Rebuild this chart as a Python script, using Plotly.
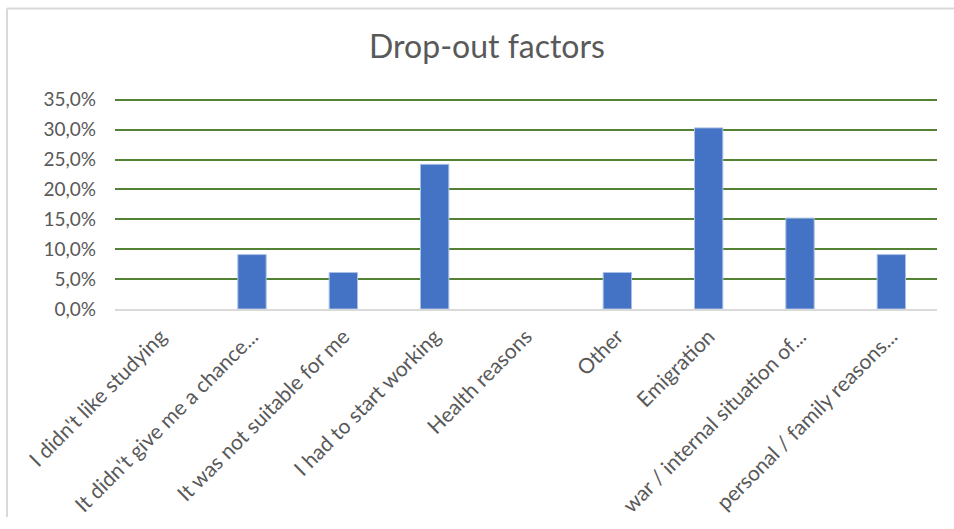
import plotly.graph_objects as go

categories = [
    "I didn't like studying",
    "It didn't give me a chance...",
    "It was not suitable for me",
    "I had to start working",
    "Health reasons",
    "Other",
    "Emigration",
    "war / internal situation of...",
    "personal / family reasons...",
]
values = [0.0, 9.1, 6.1, 24.2, 0.0, 6.1, 30.3, 15.2, 9.1]
tick_vals = [0, 5, 10, 15, 20, 25, 30, 35]
tick_text = ["0,0%", "5,0%", "10,0%", "15,0%", "20,0%", "25,0%", "30,0%", "35,0%"]

W, H = 954, 529
Y_MAX = 35.3
L, R, T, B = 115, 17, 98, 214
FONT = "Lato, Carlito, Calibri, sans-serif"
GREY = "#595959"

fig = go.Figure(
    go.Bar(
        x=categories,
        y=values,
        marker=dict(
            color="#4472C4",
            line=dict(color="#A9BFE6", width=[1 if v > 0 else 0 for v in values]),
        ),
        hoverinfo="x+y",
    )
)

pw, ph = W - L - R, H - T - B


def px_to_paper_x(px):
    return (px - L) / pw


def px_to_paper_y(py):
    return (H - B - py) / ph


fig.update_layout(
    width=W,
    height=H,
    margin=dict(l=L, r=R, t=T, b=B),
    paper_bgcolor="white",
    plot_bgcolor="white",
    bargap=0.69,
    showlegend=False,
    title=dict(
        text="Drop-out factors",
        x=487 / W,
        xref="container",
        xanchor="center",
        y=1 - 47 / H,
        yanchor="middle",
        font=dict(family=FONT, size=32, color=GREY),
    ),
    xaxis=dict(
        tickangle=-45,
        tickfont=dict(family=FONT, size=21, color=GREY),
        showgrid=False,
        showline=True,
        linecolor="#D9D9D9",
        linewidth=2,
        ticks="",
        ticklabelstandoff=5,
        range=[-0.5, len(categories) - 0.5],
    ),
    yaxis=dict(
        range=[0, Y_MAX],
        tickvals=tick_vals,
        ticktext=tick_text,
        tickfont=dict(family=FONT, size=19, color=GREY),
        showgrid=True,
        gridcolor="#548235",
        gridwidth=2,
        zeroline=False,
        showline=False,
        ticks="",
        ticklabelstandoff=18,
    ),
    shapes=[
        dict(
            type="line", xref="paper", yref="paper",
            x0=px_to_paper_x(7), x1=px_to_paper_x(W),
            y0=px_to_paper_y(6), y1=px_to_paper_y(6),
            line=dict(color="#D9D9D9", width=2),
        ),
        dict(
            type="line", xref="paper", yref="paper",
            x0=px_to_paper_x(7), x1=px_to_paper_x(7),
            y0=px_to_paper_y(6), y1=px_to_paper_y(H),
            line=dict(color="#D9D9D9", width=2),
        ),
    ],
)

fig.write_html("out.html")
